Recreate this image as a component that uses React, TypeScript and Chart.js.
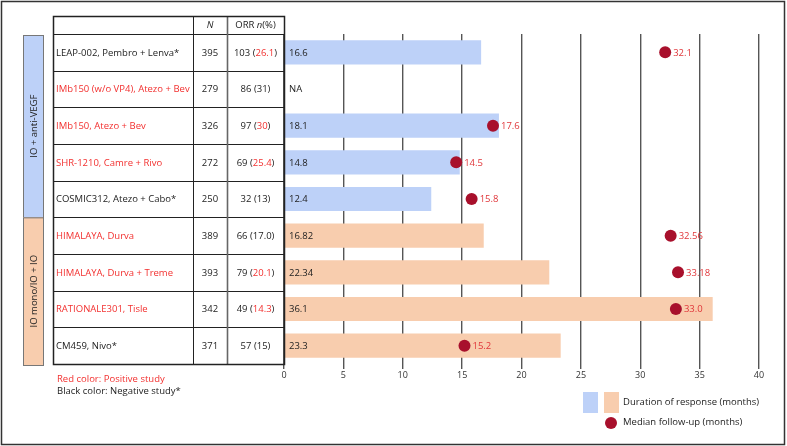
import React, { useEffect, useRef } from "react";
import { Chart, registerables } from "chart.js";

Chart.register(...registerables);

const studies = [
  "LEAP-002, Pembro + Lenva*",
  "IMb150 (w/o VP4), Atezo + Bev",
  "IMb150, Atezo + Bev",
  "SHR-1210, Camre + Rivo",
  "COSMIC312, Atezo + Cabo*",
  "HIMALAYA, Durva",
  "HIMALAYA, Durva + Treme",
  "RATIONALE301, Tisle",
  "CM459, Nivo*",
];
const positiveStudy = [false, true, true, true, false, true, true, true, false];
const groupIndex = [0, 0, 0, 0, 0, 1, 1, 1, 1];
const groupLabels = ["IO + anti-VEGF", "IO mono/IO + IO"];
const sampleN = [395, 279, 326, 272, 250, 389, 393, 342, 371];
const orrCount = [103, 86, 97, 69, 32, 66, 79, 49, 57];
const orrPct = ["26.1", "31", "30", "25.4", "13", "17.0", "20.1", "14.3", "15"];
const orrPctRed = [true, false, true, true, false, false, true, true, false];
const durationOfResponse: (number | null)[] = [16.6, null, 18.1, 14.8, 12.4, 16.82, 22.34, 36.1, 23.3];
const durationLabels = ["16.6", "NA", "18.1", "14.8", "12.4", "16.82", "22.34", "36.1", "23.3"];
const medianFollowUp: (number | null)[] = [32.1, null, 17.6, 14.5, 15.8, 32.56, 33.18, 33.0, 15.2];
const followUpLabels = ["32.1", "", "17.6", "14.5", "15.8", "32.56", "33.18", "33.0", "15.2"];
const xTicksMin = 0;
const xTicksMax = 40;
const xTicksStep = 5;

const BLUE = "#BDD1F8";
const ORANGE = "#F8CDAE";
const DOT = "#A8102C";
const RED = "#F2302F";
const DOTLABEL = "#E0363A";
const TEXT = "#222222";
const FONT = "'Open Sans', 'Noto Sans', sans-serif";

const overlayPlugin = {
  id: "overlay",
  afterDraw(chart: any) {
    const ctx: CanvasRenderingContext2D = chart.ctx;
    const area = chart.chartArea;
    const yScale = chart.scales.y;
    const xScale = chart.scales.x;
    const n = studies.length;
    const rowH = (area.bottom - area.top) / n;
    const tableLeft = 53;
    const colN = 193;
    const colORR = 227;
    const tableRight = area.left;
    const headerTop = 16;
    const rowTop = (i: number) => yScale.getPixelForValue(i) - rowH / 2;
    const rowBottom = (i: number) => yScale.getPixelForValue(i) + rowH / 2;

    ctx.save();
    // outer frame
    ctx.strokeStyle = "#333";
    ctx.lineWidth = 1.5;
    ctx.strokeRect(1.5, 1.5, 783, 443);

    // bar value labels
    ctx.font = `9.5px ${FONT}`;
    ctx.textBaseline = "middle";
    ctx.textAlign = "left";
    ctx.fillStyle = TEXT;
    for (let i = 0; i < n; i++) {
      const y = yScale.getPixelForValue(i);
      ctx.fillText(durationLabels[i], xScale.getPixelForValue(0) + 5, y + 0.5);
    }
    // dot labels
    const pmeta = chart.getDatasetMeta(1);
    ctx.fillStyle = DOTLABEL;
    for (let i = 0; i < n; i++) {
      if (medianFollowUp[i] == null) continue;
      const el = pmeta.data[i];
      ctx.fillText(followUpLabels[i], el.x + 8, el.y + 0.5);
    }

    // table lines
    const top0 = rowTop(0);
    const bottomLast = rowBottom(n - 1);
    ctx.strokeStyle = "#222";
    ctx.lineWidth = 1;
    for (let i = 1; i < n; i++) {
      const yy = Math.round(rowTop(i)) + 0.5;
      ctx.beginPath();
      ctx.moveTo(tableLeft, yy);
      ctx.lineTo(tableRight, yy);
      ctx.stroke();
    }
    ctx.beginPath();
    ctx.moveTo(tableLeft, Math.round(top0) + 0.5);
    ctx.lineTo(tableRight, Math.round(top0) + 0.5);
    ctx.stroke();
    ctx.beginPath();
    ctx.moveTo(colN + 0.5, headerTop);
    ctx.lineTo(colN + 0.5, bottomLast);
    ctx.stroke();
    ctx.strokeStyle = "#666";
    ctx.lineWidth = 1.6;
    ctx.beginPath();
    ctx.moveTo(colORR + 0.5, headerTop);
    ctx.lineTo(colORR + 0.5, bottomLast);
    ctx.stroke();
    ctx.strokeStyle = "#222";
    ctx.lineWidth = 1.5;
    ctx.strokeRect(tableLeft + 0.5, headerTop + 0.5, tableRight - tableLeft, bottomLast - headerTop);

    // header
    const hy = (headerTop + top0) / 2 + 0.5;
    ctx.fillStyle = TEXT;
    ctx.textAlign = "center";
    ctx.font = `italic 9.5px ${FONT}`;
    ctx.fillText("N", (colN + colORR) / 2, hy);
    const drawParts = (parts: { t: string; c: string; f: string }[], cx: number, cy: number) => {
      let total = 0;
      for (const p of parts) {
        ctx.font = p.f;
        total += ctx.measureText(p.t).width;
      }
      let x = cx - total / 2;
      ctx.textAlign = "left";
      for (const p of parts) {
        ctx.font = p.f;
        ctx.fillStyle = p.c;
        ctx.fillText(p.t, x, cy);
        x += ctx.measureText(p.t).width;
      }
    };
    const nf = `9.5px ${FONT}`;
    const itf = `italic 9.5px ${FONT}`;
    drawParts(
      [
        { t: "ORR ", c: TEXT, f: nf },
        { t: "n", c: TEXT, f: itf },
        { t: "(%)", c: TEXT, f: nf },
      ],
      (colORR + tableRight) / 2,
      hy
    );

    // rows
    for (let i = 0; i < n; i++) {
      const y = yScale.getPixelForValue(i) + 0.5;
      ctx.font = nf;
      ctx.textAlign = "left";
      ctx.fillStyle = positiveStudy[i] ? RED : TEXT;
      ctx.fillText(studies[i], tableLeft + 3, y);
      ctx.textAlign = "center";
      ctx.fillStyle = TEXT;
      ctx.fillText(String(sampleN[i]), (colN + colORR) / 2, y);
      drawParts(
        [
          { t: `${orrCount[i]} (`, c: TEXT, f: nf },
          { t: orrPct[i], c: orrPctRed[i] ? RED : TEXT, f: nf },
          { t: ")", c: TEXT, f: nf },
        ],
        (colORR + tableRight) / 2,
        y
      );
    }

    // group boxes
    const gLeft = 23;
    const gW = 20;
    for (let g = 0; g < groupLabels.length; g++) {
      const idx = groupIndex.map((v, i) => (v === g ? i : -1)).filter((v) => v >= 0);
      const t = rowTop(idx[0]) + (g === 0 ? 1 : 0);
      const b = rowBottom(idx[idx.length - 1]) + (g === groupLabels.length - 1 ? 1 : 0);
      ctx.fillStyle = g === 0 ? BLUE : ORANGE;
      ctx.fillRect(gLeft, t, gW, b - t);
      ctx.strokeStyle = "#777";
      ctx.lineWidth = 1;
      ctx.strokeRect(gLeft + 0.5, t + 0.5, gW, b - t);
      ctx.save();
      ctx.translate(gLeft + gW / 2 + 1, (t + b) / 2);
      ctx.rotate(-Math.PI / 2);
      ctx.textAlign = "center";
      ctx.textBaseline = "middle";
      ctx.fillStyle = TEXT;
      ctx.font = nf;
      ctx.fillText(groupLabels[g], 0, 0);
      ctx.restore();
    }

    // footnotes
    ctx.textAlign = "left";
    ctx.textBaseline = "middle";
    ctx.font = nf;
    ctx.fillStyle = RED;
    ctx.fillText("Red color: Positive study", 57, 379);
    ctx.fillStyle = TEXT;
    ctx.fillText("Black color: Negative study*", 57, 391);

    // legend
    ctx.fillStyle = BLUE;
    ctx.fillRect(583, 392, 15, 21);
    ctx.fillStyle = ORANGE;
    ctx.fillRect(604, 392, 15, 21);
    ctx.fillStyle = TEXT;
    ctx.fillText("Duration of response (months)", 623, 402);
    ctx.fillStyle = DOT;
    ctx.beginPath();
    ctx.arc(611, 423, 6, 0, Math.PI * 2);
    ctx.fill();
    ctx.fillStyle = TEXT;
    ctx.fillText("Median follow-up (months)", 623, 422);
    ctx.restore();
  },
};

export default function App() {
  const ref = useRef<HTMLCanvasElement>(null);
  useEffect(() => {
    document.body.style.margin = "0";
    const canvas = ref.current;
    if (!canvas) return;
    const chart = new Chart(canvas, {
      type: "bar",
      data: {
        labels: studies,
        datasets: [
          {
            type: "bar",
            label: "Duration of response (months)",
            data: durationOfResponse as any,
            indexAxis: "y",
            backgroundColor: groupIndex.map((g) => (g === 0 ? BLUE : ORANGE)),
            borderWidth: 0,
            barPercentage: 0.66,
            categoryPercentage: 1,
            order: 2,
          } as any,
          {
            type: "line",
            label: "Median follow-up (months)",
            data: medianFollowUp as any,
            indexAxis: "y",
            showLine: false,
            pointRadius: 6,
            pointHoverRadius: 6,
            pointBackgroundColor: DOT,
            pointBorderWidth: 0,
            borderColor: DOT,
            order: 1,
          } as any,
        ],
      },
      options: {
        indexAxis: "y",
        responsive: false,
        animation: false,
        maintainAspectRatio: false,
        layout: { padding: { left: 284, top: 34, right: 28, bottom: 62 } },
        plugins: { legend: { display: false }, tooltip: { enabled: false } },
        scales: {
          x: {
            type: "linear",
            min: xTicksMin,
            max: xTicksMax,
            afterFit: (s: any) => {
              s.height = 20;
            },
            ticks: {
              stepSize: xTicksStep,
              color: "#333",
              font: { family: "'Open Sans', sans-serif", size: 9 },
              padding: 1,
            },
            grid: { color: "#555", lineWidth: 1.4, tickLength: 5, drawTicks: true },
            border: { display: false },
          },
          y: { type: "category", display: false, offset: true },
        },
      },
      plugins: [overlayPlugin],
    });
    return () => chart.destroy();
  }, []);
  return <canvas ref={ref} width={787} height={446} style={{ display: "block" }} />;
}
